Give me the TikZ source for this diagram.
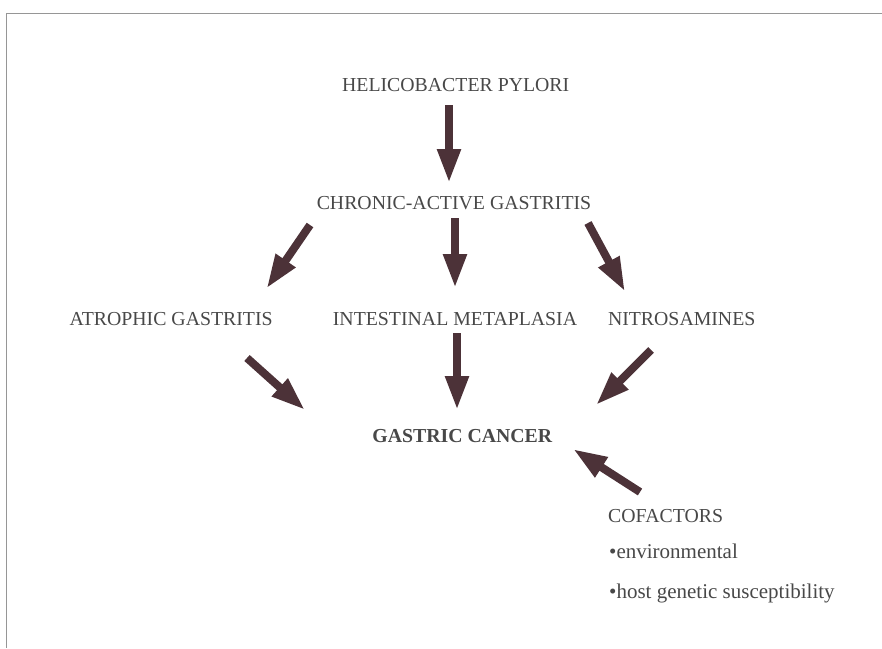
\documentclass[tikz,border=0pt]{standalone}
\usepackage{fontspec}
\setmainfont{Liberation Serif}
\usetikzlibrary{arrows.meta}
\definecolor{txtc}{RGB}{72,72,72}
\definecolor{arrc}{RGB}{76,50,56}
\definecolor{framec}{RGB}{150,150,150}
\tikzset{
  lbl/.style={text=txtc, font=\fontsize{19.8pt}{24pt}\selectfont, inner sep=0pt, anchor=base},
  lblw/.style={lbl, anchor=base west},
  smalllbl/.style={lblw, font=\fontsize{21pt}{25pt}\selectfont},
  bigarrow/.style={draw=arrc, line width=8pt, -{Triangle[length=34pt,width=22pt]}},
  framel/.style={draw=framec, line width=1.4pt}
}
\begin{document}
\begin{tikzpicture}[x=1pt,y=-1pt]
\useasboundingbox (0,0) rectangle (882,648);
% frame
\coordinate (f1) at (882,13.5);
\coordinate (f2) at (6.5,13.5);
\coordinate (f3) at (6.5,648);
\draw[framel] (f1) -- (f2) -- (f3);
% texts
\node[lbl] (hp) at (455.7,91.7) {HELICOBACTER PYLORI};
\node[lbl] (cag) at (454,209.3) {CHRONIC-ACTIVE GASTRITIS};
\node[lbl] (ag) at (171.2,325) {ATROPHIC GASTRITIS};
\node[lbl] (im) at (455,325) {INTESTINAL METAPLASIA};
\node[lbl] (ns) at (681.7,325) {NITROSAMINES};
\node[lbl, font=\fontsize{19.8pt}{24pt}\selectfont\bfseries] (gc) at (462.3,442.7) {GASTRIC CANCER};
\node[lblw] (cof) at (608,522) {COFACTORS};
\node[smalllbl] (env) at (609,558) {\textbullet environmental};
\node[smalllbl] (host) at (609,598) {\textbullet host genetic susceptibility};
% arrow end points
\coordinate (a1s) at (449,105);   \coordinate (a1e) at (449,183);
\coordinate (a2s) at (310,225);   \coordinate (a2e) at (266.5,288.5);
\coordinate (a3s) at (455,218);   \coordinate (a3e) at (455,288);
\coordinate (a4s) at (588,223);   \coordinate (a4e) at (625,291.5);
\coordinate (a5s) at (247,358);   \coordinate (a5e) at (305,410);
\coordinate (a6s) at (457,333);   \coordinate (a6e) at (457,410);
\coordinate (a7s) at (651,350);   \coordinate (a7e) at (596,405);
\coordinate (a8s) at (640,492);   \coordinate (a8e) at (573,449);
% arrows
\draw[bigarrow] (a1s) -- (a1e);
\draw[bigarrow] (a2s) -- (a2e);
\draw[bigarrow] (a3s) -- (a3e);
\draw[bigarrow] (a4s) -- (a4e);
\draw[bigarrow] (a5s) -- (a5e);
\draw[bigarrow] (a6s) -- (a6e);
\draw[bigarrow] (a7s) -- (a7e);
\draw[bigarrow] (a8s) -- (a8e);
\end{tikzpicture}
\end{document}
